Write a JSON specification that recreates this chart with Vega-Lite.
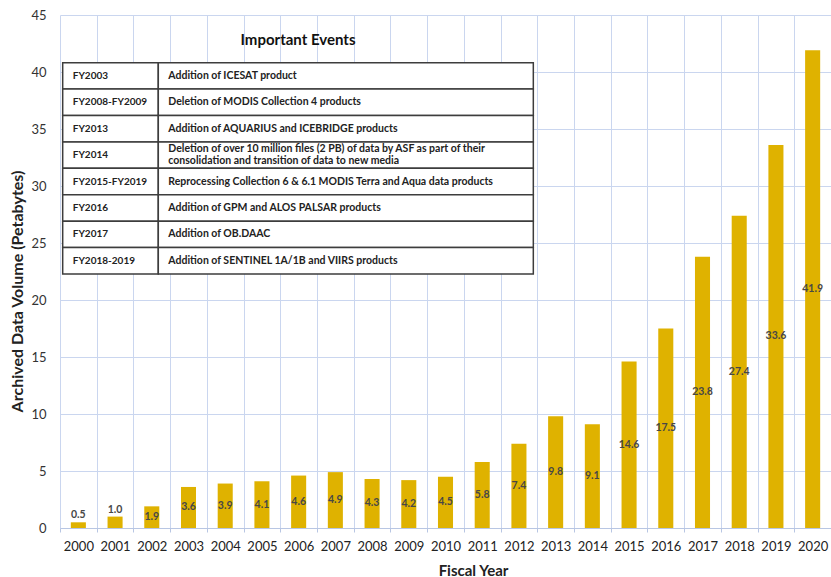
{
  "$schema": "https://vega.github.io/schema/vega-lite/v6.json",
  "width": 771,
  "height": 513,
  "autosize": {"type": "none"},
  "padding": {"left": 60, "top": 15, "right": 0, "bottom": 49},
  "background": "white",
  "config": {"font": "Lato", "view": {"stroke": null}},
  "datasets": {
    "volume": [
      {"year": "2000", "volume": 0.5},
      {"year": "2001", "volume": 1.0},
      {"year": "2002", "volume": 1.9},
      {"year": "2003", "volume": 3.6},
      {"year": "2004", "volume": 3.9},
      {"year": "2005", "volume": 4.1},
      {"year": "2006", "volume": 4.6},
      {"year": "2007", "volume": 4.9},
      {"year": "2008", "volume": 4.3},
      {"year": "2009", "volume": 4.2},
      {"year": "2010", "volume": 4.5},
      {"year": "2011", "volume": 5.8},
      {"year": "2012", "volume": 7.4},
      {"year": "2013", "volume": 9.8},
      {"year": "2014", "volume": 9.1},
      {"year": "2015", "volume": 14.6},
      {"year": "2016", "volume": 17.5},
      {"year": "2017", "volume": 23.8},
      {"year": "2018", "volume": 27.4},
      {"year": "2019", "volume": 33.6},
      {"year": "2020", "volume": 41.9}
    ],
    "events": [
      {"period": "FY2003", "event": "Addition of ICESAT product"},
      {"period": "FY2008-FY2009", "event": "Deletion of  MODIS Collection 4 products"},
      {"period": "FY2013", "event": "Addition of AQUARIUS and ICEBRIDGE products"},
      {"period": "FY2014", "event": "Deletion of over 10 million files (2 PB) of data by ASF as part of their\nconsolidation and transition of data to new media"},
      {"period": "FY2015-FY2019", "event": "Reprocessing  Collection 6 & 6.1 MODIS Terra and Aqua data products"},
      {"period": "FY2016", "event": "Addition of GPM and ALOS PALSAR products"},
      {"period": "FY2017", "event": "Addition of OB.DAAC"},
      {"period": "FY2018-2019", "event": "Addition of SENTINEL 1A/1B and VIIRS products"}
    ]
  },
  "layer": [
    {
      "data": {"name": "volume"},
      "layer": [
        {
          "mark": {"type": "bar", "color": "#DFB200", "width": {"band": 0.41}},
          "encoding": {
            "x": {
              "field": "year", "type": "ordinal",
              "scale": {"paddingInner": 0, "paddingOuter": 0},
              "axis": {
                "title": "Fiscal Year", "titleFontSize": 15, "titleFontWeight": "bold", "titleColor": "#222222",
                "titleX": 413, "titleY": 42, "titleBaseline": "middle",
                "labelAngle": 0, "labelFontSize": 13, "labelColor": "#222222", "labelPadding": 8,
                "tickSize": 4, "tickColor": "#B8C6E3", "domainColor": "#B8C6E3",
                "grid": true, "gridColor": "#CAD6EF", "tickBand": "extent"
              }
            },
            "y": {
              "field": "volume", "type": "quantitative",
              "scale": {"domain": [0, 45], "nice": false},
              "axis": {
                "title": "Archived Data Volume (Petabytes)", "titleFontSize": 16, "titleFontWeight": "bold", "titleColor": "#222222",
                "titleX": -43, "titleY": 276, "titleBaseline": "middle", "titleAngle": -90,
                "values": [0, 5, 10, 15, 20, 25, 30, 35, 40, 45],
                "ticks": false, "domain": false, "labelPadding": 14,
                "labelFontSize": 13, "labelColor": "#333333",
                "gridColor": "#CAD6EF"
              }
            }
          }
        },
        {
          "transform": [{"filter": "datum.volume >= 1.5"}],
          "mark": {"type": "text", "fontWeight": "bold", "fontSize": 10.5, "color": "#474747", "baseline": "middle"},
          "encoding": {
            "x": {"field": "year", "type": "ordinal"},
            "y": {"field": "volume", "type": "quantitative", "scale": {"domain": [0, 90], "nice": false}, "axis": null},
            "text": {"field": "volume", "type": "quantitative", "format": ".1f"}
          }
        },
        {
          "transform": [{"filter": "datum.volume < 1.5"}],
          "mark": {"type": "text", "fontWeight": "bold", "fontSize": 10.5, "color": "#474747", "baseline": "bottom", "dy": -2},
          "encoding": {
            "x": {"field": "year", "type": "ordinal"},
            "y": {"field": "volume", "type": "quantitative", "scale": {"domain": [0, 45], "nice": false}, "axis": null},
            "text": {"field": "volume", "type": "quantitative", "format": ".1f"}
          }
        }
      ],
      "resolve": {"scale": {"y": "independent"}}
    },
    {
      "data": {"name": "events"},
      "layer": [
        {
          "mark": {"type": "rect", "fill": "white", "stroke": "#3d3d3d", "strokeWidth": 1.5},
          "encoding": {
            "x": {"datum": 0.35, "type": "quantitative", "scale": {"domain": [0, 100], "nice": false, "zero": false}, "axis": null},
            "x2": {"datum": 12.75},
            "y": {"field": "period", "type": "nominal", "scale": {"type": "band", "paddingInner": 0, "paddingOuter": 0, "range": [47.7, 259]}, "axis": null}
          }
        },
        {
          "mark": {"type": "rect", "fill": "white", "stroke": "#3d3d3d", "strokeWidth": 1.5},
          "encoding": {
            "x": {"datum": 12.75, "type": "quantitative"},
            "x2": {"datum": 61.39},
            "y": {"field": "period", "type": "nominal"}
          }
        },
        {
          "mark": {"type": "text", "align": "left", "baseline": "middle", "fontSize": 10, "fontWeight": "bold", "color": "#222222"},
          "encoding": {
            "x": {"datum": 1.65, "type": "quantitative"},
            "y": {"field": "period", "type": "nominal"},
            "text": {"field": "period"}
          }
        },
        {
          "transform": [{"filter": "indexof(datum.event, '\\n') < 0"}],
          "mark": {"type": "text", "align": "left", "baseline": "middle", "fontSize": 10.5, "fontWeight": "bold", "color": "#222222"},
          "encoding": {
            "x": {"datum": 14.05, "type": "quantitative"},
            "y": {"field": "period", "type": "nominal"},
            "text": {"field": "event"}
          }
        },
        {
          "transform": [{"filter": "indexof(datum.event, '\\n') >= 0"}],
          "mark": {"type": "text", "align": "left", "baseline": "middle", "fontSize": 10.5, "fontWeight": "bold", "color": "#222222", "lineBreak": "\n", "lineHeight": 12, "dy": -6},
          "encoding": {
            "x": {"datum": 14.05, "type": "quantitative"},
            "y": {"field": "period", "type": "nominal"},
            "text": {"field": "event"}
          }
        },
        {
          "data": {"values": [{"title": "Important Events"}]},
          "mark": {"type": "text", "align": "center", "baseline": "middle", "fontSize": 15, "fontWeight": "bold", "color": "#111111", "dy": -36},
          "encoding": {
            "x": {"datum": 30.87, "type": "quantitative"},
            "y": {"datum": "FY2003", "type": "nominal"},
            "text": {"field": "title"}
          }
        }
      ]
    }
  ],
  "resolve": {"scale": {"x": "independent", "y": "independent"}}
}
